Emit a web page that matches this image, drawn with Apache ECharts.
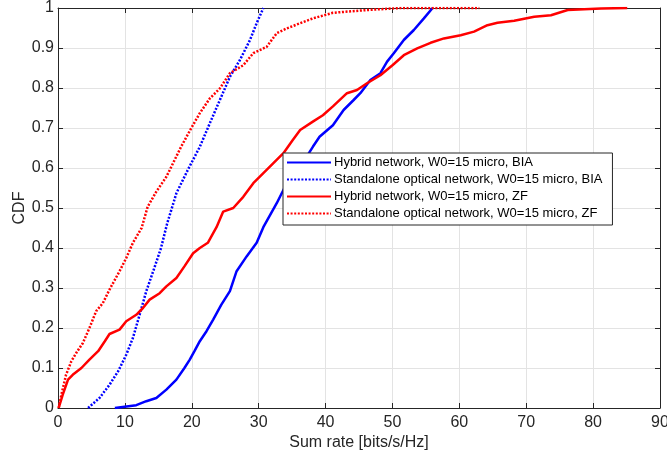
<!DOCTYPE html>
<html lang="en">
<head>
  <meta charset="UTF-8">
  <title>CDF of sum rate</title>
  <script src="https://cdn.jsdelivr.net/npm/echarts@6/dist/echarts.min.js"></script>
  <style>
    html, body { margin: 0; padding: 0; background: #fff; }
  </style>
</head>
<body>
<div id="main" style="width: 667px;height:456px;"></div>
<script type="text/javascript">
  // sum rate [bits/s/Hz], CDF
  var hybridBIA = [
    [8.5, 0], [11.7, 0.007], [13.2, 0.017], [14.7, 0.025], [16.2, 0.046], [17.7, 0.071],
    [18.9, 0.1], [19.7, 0.121], [20.4, 0.142], [21.2, 0.167], [22.2, 0.192], [23.2, 0.221],
    [24.4, 0.258], [25.7, 0.292], [26.7, 0.342], [28.2, 0.379], [29.7, 0.413], [30.7, 0.452],
    [32.7, 0.512], [34.2, 0.562], [36.2, 0.603], [38.1, 0.653], [39.1, 0.678], [41.1, 0.707],
    [42.7, 0.745], [44.2, 0.77], [45.2, 0.787], [46.7, 0.82], [48.2, 0.837], [49.2, 0.866],
    [50.2, 0.887], [51.7, 0.92], [53.2, 0.945], [54.7, 0.974], [56, 1]
  ];
  var standaloneBIA = [
    [4.5, 0], [6.2, 0.025], [7.7, 0.058], [9.0, 0.092], [10.2, 0.133], [11.2, 0.175],
    [12.2, 0.233], [13.2, 0.292], [14.4, 0.35], [15.4, 0.4], [16.3, 0.46], [17.7, 0.537],
    [19.4, 0.595], [21.2, 0.653], [22.7, 0.712], [24.2, 0.77], [25.7, 0.828], [27.2, 0.87],
    [28.7, 0.92], [29.7, 0.962], [30.7, 1]
  ];
  var hybridZF = [
    [0.1, 0], [0.7, 0.033], [1.5, 0.071], [2.2, 0.083], [3.5, 0.1], [4.7, 0.121], [6.0, 0.142],
    [7.0, 0.167], [7.7, 0.185], [9.2, 0.196], [10.2, 0.217], [11.7, 0.233], [12.7, 0.25],
    [13.7, 0.271], [15.2, 0.287], [16.2, 0.304], [17.7, 0.325], [18.9, 0.354], [20.2, 0.387],
    [21.2, 0.4], [22.4, 0.413], [23.2, 0.437], [23.7, 0.452], [24.7, 0.491], [26.2, 0.5],
    [27.7, 0.528], [29.2, 0.562], [30.7, 0.587], [32.2, 0.612], [33.7, 0.637], [35.1, 0.67],
    [36.2, 0.695], [38.1, 0.716], [39.6, 0.732], [41.1, 0.754], [43.2, 0.787], [44.7, 0.795],
    [46.2, 0.812], [48.2, 0.832], [50.0, 0.857], [51.7, 0.882], [53.7, 0.899], [55.7, 0.913],
    [57.7, 0.924], [60.2, 0.932], [62.2, 0.941], [64.2, 0.957], [65.7, 0.963], [68.2, 0.968],
    [71.2, 0.978], [73.7, 0.982], [76.2, 0.995], [81.2, 0.999], [85.1, 1]
  ];
  var standaloneZF = [
    [0.1, 0], [0.5, 0.033], [1.2, 0.083], [2.0, 0.117], [2.7, 0.137], [3.7, 0.162], [4.7, 0.2],
    [5.7, 0.242], [6.7, 0.262], [7.7, 0.296], [9.2, 0.342], [10.2, 0.375], [11.2, 0.413],
    [12.5, 0.45], [13.4, 0.503], [14.7, 0.541], [16.2, 0.578], [17.2, 0.612], [18.4, 0.653],
    [19.9, 0.699], [21.2, 0.737], [22.7, 0.774], [24.2, 0.799], [25.7, 0.837], [27.7, 0.857],
    [29.2, 0.887], [31.2, 0.903], [32.7, 0.937], [34.2, 0.949], [36.2, 0.962], [38.1, 0.974],
    [41.1, 0.988], [46.2, 0.995], [51.2, 1], [63, 1]
  ];
  var names = [
    'Hybrid network, W0=15 micro, BIA',
    'Standalone optical network, W0=15 micro, BIA',
    'Hybrid network, W0=15 micro, ZF',
    'Standalone optical network, W0=15 micro, ZF'
  ];

  var myChart = echarts.init(document.getElementById('main'));
  var font = 'Liberation Sans, Arial, Helvetica, sans-serif';
  var axisColor = '#262626';
  var dots = [2, 1.6];

  function mainAxis(extra) {
    return Object.assign({
      type: 'value',
      nameMoveOverlap: false,
      axisLine: { show: true, onZero: false, lineStyle: { color: axisColor, width: 1 } },
      axisTick: { show: true, inside: true, length: 5, lineStyle: { color: axisColor } },
      axisLabel: { color: axisColor, fontSize: 16, fontFamily: font, margin: 7 },
      splitLine: { show: true, lineStyle: { color: '#e3e3e3', width: 1 } },
      nameTextStyle: { color: axisColor, fontSize: 16, fontFamily: font }
    }, extra);
  }
  function boxAxis(extra) {
    return Object.assign({
      type: 'value',
      axisLine: { show: true, onZero: false, lineStyle: { color: axisColor, width: 1 } },
      axisTick: { show: true, inside: true, length: 5, lineStyle: { color: axisColor } },
      axisLabel: { show: false },
      splitLine: { show: false }
    }, extra);
  }

  myChart.setOption({
    animation: false,
    textStyle: { fontFamily: font },
    grid: { left: 58, top: 8, right: 7, bottom: 48, outerBoundsMode: 'none', containLabel: false },
    legend: {
      data: names,
      orient: 'vertical',
      left: 283,
      top: 153,
      itemWidth: 44,
      itemHeight: 14,
      itemGap: 4,
      padding: [3, 10, 5, 3],
      backgroundColor: '#fff',
      borderColor: axisColor,
      borderWidth: 1,
      borderRadius: 0,
      itemStyle: { opacity: 0 },
      textStyle: { color: '#000', fontSize: 13, fontFamily: font, padding: [0, 0, 0, -2] }
    },
    xAxis: [
      mainAxis({ min: 0, max: 90, interval: 10, name: 'Sum rate [bits/s/Hz]',
        nameLocation: 'middle', nameGap: 27 }),
      boxAxis({ min: 0, max: 90, interval: 10, position: 'top' })
    ],
    yAxis: [
      mainAxis({ min: 0, max: 1, interval: 0.1, name: 'CDF', nameLocation: 'middle', nameGap: 30,
        axisLabel: { color: axisColor, fontSize: 16, fontFamily: font, margin: 4,
          formatter: function (v) { return String(Math.round(v * 10) / 10); } } }),
      boxAxis({ min: 0, max: 1, interval: 0.1, position: 'right' })
    ],
    series: [
      { name: names[0], type: 'line', data: hybridBIA, symbol: 'none',
        lineStyle: { color: '#0000ff', width: 2.5 }, itemStyle: { color: '#0000ff' } },
      { name: names[1], type: 'line', data: standaloneBIA, symbol: 'none',
        lineStyle: { color: '#0000ff', width: 2.5, type: dots }, itemStyle: { color: '#0000ff' } },
      { name: names[2], type: 'line', data: hybridZF, symbol: 'none',
        lineStyle: { color: '#ff0000', width: 2.5 }, itemStyle: { color: '#ff0000' } },
      { name: names[3], type: 'line', data: standaloneZF, symbol: 'none',
        lineStyle: { color: '#ff0000', width: 2.5, type: dots }, itemStyle: { color: '#ff0000' } }
    ]
  });
</script>
</body>
</html>
